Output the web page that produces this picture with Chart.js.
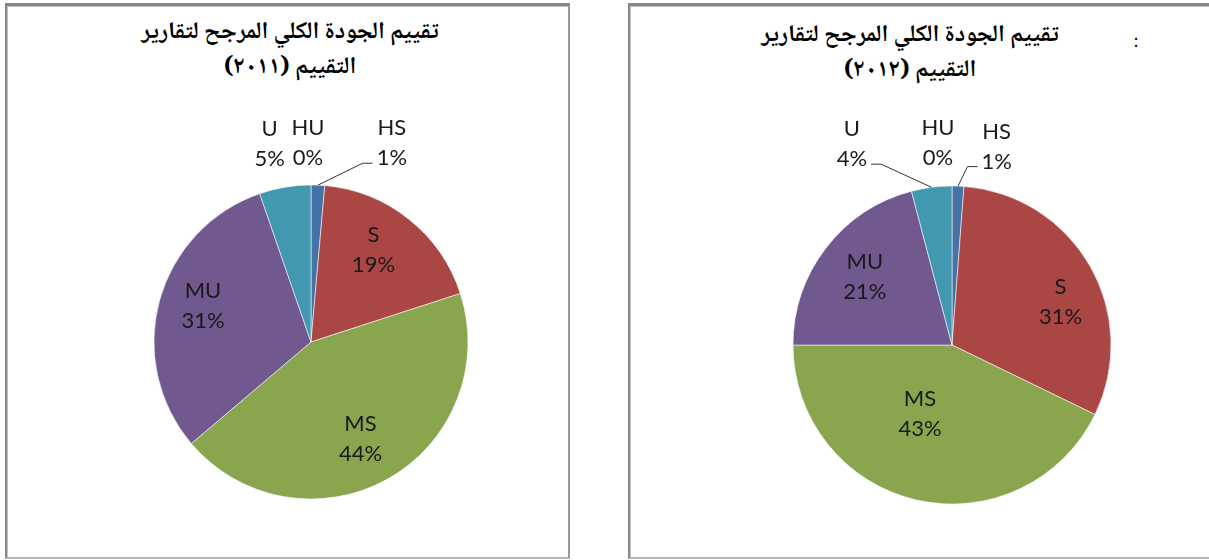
<!DOCTYPE html>
<html lang="ar">
<head>
<meta charset="utf-8">
<script src="https://cdn.jsdelivr.net/npm/chart.js@4.4.1/dist/chart.umd.min.js"></script>
<style>
  html, body { margin:0; padding:0; background:#fff; width:1209px; height:560px; overflow:hidden; }
  .box { position:absolute; box-sizing:border-box; background:#fff;
         border-left:2px solid #888; border-right:2px solid #999; border-top:3px solid #878787; border-bottom:2px solid #b5b5b5;
         box-shadow: inset 1px 1px 0 #c4c4c4; }
  #box1 { left:5px; top:3px; width:565px; height:556px; }
  #box2 { left:628px; top:3px; width:600px; height:556px; }
  .title { position:absolute; direction:rtl; text-align:center; white-space:nowrap;
           font-family:"Noto Naskh Arabic","Noto Sans Arabic","DejaVu Sans",serif; font-weight:bold;
           font-size:24px; line-height:35px; color:#000; transform:translateX(-50%); }
  #t1 { left:290px; top:15px; }
  #t2 { left:910px; top:18px; }
  #colon { position:absolute; left:1133px; top:30px; font-family:"DejaVu Sans"; font-size:18px; }
  canvas { position:absolute; left:0; top:0; }
</style>
</head>
<body>
<div class="box" id="box1"></div>
<div class="box" id="box2"></div>
<div class="title" id="t1"></div>
<div class="title" id="t2"></div>
<div id="colon">:</div>
<canvas id="c1" width="1209" height="560" style="width:1209px;height:560px"></canvas>
<canvas id="c2" width="1209" height="560" style="width:1209px;height:560px"></canvas>
<script>
const categories = ['HS', 'S', 'MS', 'MU', 'U', 'HU'];
const values2011 = [1.4, 18.6, 43.8, 30.9, 5.3, 0];
const values2012 = [1.2, 31.0, 42.8, 20.9, 4.1, 0];
const titleLine1 = 'تقييم الجودة الكلي المرجح لتقارير';
const titleLine2_2011 = 'التقييم (٢٠١١)';
const titleLine2_2012 = 'التقييم (٢٠١٢)';
const sliceColors = ['#4572A7', '#AA4643', '#89A54E', '#71588F', '#4198AF', '#DB843D'];

document.getElementById('t1').innerHTML = titleLine1 + '<br>' + titleLine2_2011;
document.getElementById('t2').innerHTML = titleLine1 + '<br>' + titleLine2_2012;

const sliceLabels = {
  id: 'sliceLabels',
  afterDatasetsDraw(chart, args, opts) {
    const ctx = chart.ctx;
    const meta = chart.getDatasetMeta(0);
    const data = chart.data.datasets[0].data;
    const total = data.reduce((a, b) => a + b, 0);
    ctx.save();
    ctx.font = opts.font;
    ctx.fillStyle = opts.color;
    ctx.strokeStyle = opts.lineColor;
    ctx.lineWidth = 1;
    ctx.textAlign = 'center';
    ctx.textBaseline = 'middle';
    meta.data.forEach((arc, i) => {
      const p = arc.getProps(['x', 'y', 'startAngle', 'endAngle', 'outerRadius'], true);
      const mid = (p.startAngle + p.endAngle) / 2;
      const pct = data[i] / total * 100;
      const f = pct < opts.smallLimit ? opts.outside : opts.inside;
      const sh = opts.shift[i] || [0, 0];
      const lx = p.x + Math.cos(mid) * p.outerRadius * f + sh[0];
      const ly = p.y + Math.sin(mid) * p.outerRadius * f + sh[1];
      const l1 = chart.data.labels[i];
      const l2 = Math.round(pct) + '%';
      ctx.fillText(l1, lx, ly - opts.lineGap / 2);
      ctx.fillText(l2, lx, ly + opts.lineGap / 2);
      if (opts.leaders.includes(i)) {
        const w = ctx.measureText(l2).width;
        const dir = sh[0] > 0 ? -1 : 1;
        const sx = lx + dir * (w / 2 + 4);
        const sy = ly + opts.lineGap / 2 + 5;
        const ex = p.x + Math.cos(mid) * p.outerRadius;
        const ey = p.y + Math.sin(mid) * p.outerRadius;
        ctx.beginPath();
        ctx.moveTo(sx, sy);
        ctx.lineTo(sx + dir * 10, sy);
        ctx.lineTo(ex, ey);
        ctx.stroke();
      }
    });
    ctx.restore();
  }
};

function makePie(id, values, radius, padding, shift, leaders) {
  return new Chart(document.getElementById(id), {
    type: 'pie',
    data: {
      labels: categories,
      datasets: [{
        data: values,
        backgroundColor: sliceColors,
        borderColor: 'rgba(255,255,255,0.55)',
        borderWidth: 1
      }]
    },
    options: {
      responsive: false,
      animation: false,
      devicePixelRatio: 1,
      radius: radius,
      layout: { padding: padding },
      plugins: {
        legend: { display: false },
        tooltip: { enabled: false },
        title: { display: false },
        sliceLabels: {
          font: '22px Lato, "Open Sans", sans-serif',
          color: '#1a1a1a',
          lineColor: '#333',
          lineGap: 30,
          smallLimit: 6,
          inside: 0.7,
          outside: 1.28,
          shift: shift,
          leaders: leaders
        }
      }
    },
    plugins: [sliceLabels]
  });
}

makePie('c1', values2011, 157,
  { left: 146, right: 733, top: 177, bottom: 53 },
  [[72, 2], [-6, -6], [-4, 1], [-2, -7], [-8, 0], [-3, 2]], [0]);
makePie('c2', values2012, 159,
  { left: 787, right: 92, top: 180, bottom: 50 },
  [[37, 5], [12, 12], [-7, -40], [1, 0], [-74, 1], [-14, 1]], [0, 4]);
</script>
</body>
</html>
